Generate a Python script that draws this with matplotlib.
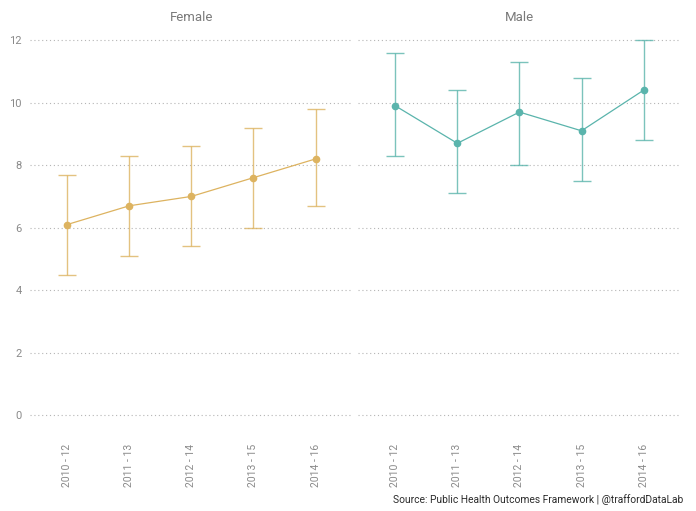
import matplotlib
matplotlib.use("Agg")
import matplotlib.pyplot as plt

plt.rcParams['font.family'] = ['Roboto', 'DejaVu Sans']

periods = ["2010 - 12", "2011 - 13", "2012 - 14", "2013 - 15", "2014 - 16"]

female_value = [6.1, 6.7, 7.0, 7.6, 8.2]
female_lower = [4.5, 5.1, 5.4, 6.0, 6.7]
female_upper = [7.7, 8.3, 8.6, 9.2, 9.8]

male_value = [9.9, 8.7, 9.7, 9.1, 10.4]
male_lower = [8.3, 7.1, 8.0, 7.5, 8.8]
male_upper = [11.6, 10.4, 11.3, 10.8, 12.0]

panels = [
    ("Female", female_value, female_lower, female_upper, "#DDB360"),
    ("Male", male_value, male_lower, male_upper, "#5AB4AC"),
]

fig = plt.figure(figsize=(6.96, 5.11), dpi=100)
bottom, top = 0.151, 0.958
lefts = [0.0431, 0.5144]
width = 0.4638

for i, (name, vals, lo, hi, col) in enumerate(panels):
    ax = fig.add_axes([lefts[i], bottom, width, top - bottom])
    x = list(range(len(periods)))
    yerr = [[v - l for v, l in zip(vals, lo)], [h - v for v, h in zip(vals, hi)]]
    ax.errorbar(x, vals, yerr=yerr, fmt="none", ecolor=col, elinewidth=1.0,
                capsize=6.5, capthick=1.0, alpha=0.8, zorder=2)
    ax.plot(x, vals, color=col, lw=0.9, marker="o", markersize=4.5, zorder=3)
    ax.set_xlim(-0.6, len(periods) - 0.4)
    ax.set_ylim(-0.6, 12.6)
    ax.set_yticks([0, 2, 4, 6, 8, 10, 12])
    ax.set_xticks(x)
    ax.set_xticklabels(periods, rotation=90, fontsize=7.5, color="#8a8a8a")
    ax.grid(axis="y", linestyle=(0, (1, 2.5)), color="#b5b5b5", linewidth=0.8)
    ax.grid(axis="x", visible=False)
    ax.set_axisbelow(True)
    for s in ax.spines.values():
        s.set_visible(False)
    ax.tick_params(length=0, pad=7)
    ax.tick_params(axis="y", labelsize=8, colors="#8a8a8a", pad=6)
    if i > 0:
        ax.set_yticklabels([])
    ax.text(0.5, 1.01, name, transform=ax.transAxes, ha="center", va="center",
            fontsize=9.5, color="#7a7a7a")

fig.text(0.981, 0.022, "Source: Public Health Outcomes Framework | @traffordDataLab",
         ha="right", va="center", fontsize=7.4, color="#2b2b2b")

fig.savefig("out.png", dpi=100)
